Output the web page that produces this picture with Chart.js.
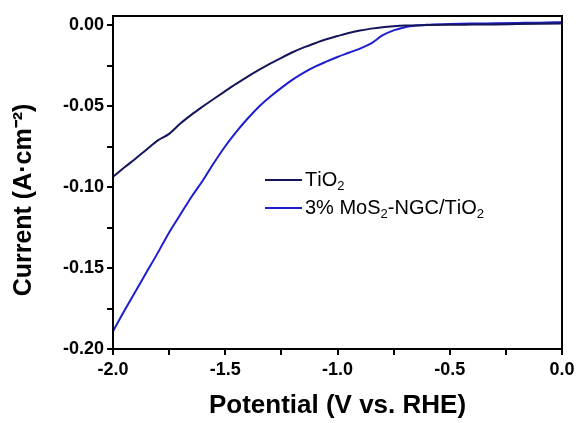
<!DOCTYPE html>
<html>
<head>
<meta charset="utf-8">
<script src="https://cdn.jsdelivr.net/npm/chart.js@4.4.1/dist/chart.umd.min.js"></script>
<style>
  html, body { margin: 0; padding: 0; background: #fff; }
  #wrap { width: 579px; height: 423px; }
</style>
</head>
<body>
<div id="wrap"><canvas id="lsv"></canvas></div>
<script>
/* data */
const tio2Potential = [-2.0, -1.95, -1.9, -1.85, -1.8, -1.75, -1.7, -1.65, -1.6, -1.55, -1.5, -1.45, -1.4, -1.35, -1.3, -1.25, -1.2, -1.15, -1.1, -1.05, -1.0, -0.95, -0.9, -0.85, -0.8, -0.75, -0.7, -0.6, -0.5, -0.4, -0.3, -0.2, -0.1, 0.0];
const tio2Current = [-0.0938, -0.088, -0.0825, -0.0768, -0.0712, -0.0672, -0.0608, -0.0553, -0.0503, -0.0455, -0.0408, -0.0362, -0.0318, -0.0277, -0.0238, -0.0202, -0.0168, -0.0138, -0.0112, -0.0088, -0.0068, -0.0049, -0.0034, -0.0022, -0.0013, -0.0007, -0.0003, 0.0000, 0.0002, 0.0003, 0.0004, 0.0006, 0.0008, 0.0010];

const mosPotential = [-2.0, -1.95, -1.9, -1.85, -1.8, -1.75, -1.7, -1.65, -1.6, -1.55, -1.5, -1.45, -1.4, -1.35, -1.3, -1.25, -1.2, -1.15, -1.1, -1.05, -1.0, -0.95, -0.9, -0.85, -0.8, -0.75, -0.7, -0.65, -0.6, -0.5, -0.4, -0.3, -0.2, -0.1, 0.0];
const mosCurrent = [-0.189, -0.1765, -0.1645, -0.1525, -0.1405, -0.128, -0.117, -0.106, -0.096, -0.085, -0.0748, -0.0658, -0.0577, -0.0504, -0.0443, -0.0388, -0.0337, -0.0294, -0.0257, -0.0226, -0.0197, -0.0171, -0.0145, -0.0113, -0.0064, -0.0033, -0.0013, -0.0003, 0.0002, 0.0006, 0.0009, 0.0011, 0.0013, 0.0015, 0.0018];

const seriesNames = ["TiO₂", "3% MoS₂-NGC/TiO₂"];
const seriesColors = ["#15155c", "#1e1ed0"];

const xTicks = [-2.0, -1.75, -1.5, -1.25, -1.0, -0.75, -0.5, -0.25, 0.0];
const yTicks = [-0.2, -0.175, -0.15, -0.125, -0.1, -0.075, -0.05, -0.025, 0.0];

const xTitle = "Potential (V vs. RHE)";
const yTitle = "Current (A·cm⁻²)";

const FONT = "'Liberation Sans', Arial, sans-serif";

const toPoints = (xs, ys) => xs.map((x, i) => ({ x, y: ys[i] }));

/* box round the plot */
const frame = {
  id: "frame",
  afterDatasetsDraw(chart) {
    const { ctx, chartArea: a } = chart;
    ctx.save();
    ctx.strokeStyle = "#000";
    ctx.lineWidth = 2;
    ctx.strokeRect(a.left, a.top, a.right - a.left, a.bottom - a.top);
    ctx.restore();
  }
};

/* y title sits a bit lower than the axis middle in the original */
const yAxisTitle = {
  id: "yAxisTitle",
  afterDraw(chart, args, opts) {
    const { ctx } = chart;
    ctx.save();
    ctx.translate(opts.x, opts.y);
    ctx.rotate(-Math.PI / 2);
    ctx.font = `bold ${opts.size}px ${FONT}`;
    ctx.fillStyle = "#000";
    ctx.textAlign = "center";
    ctx.textBaseline = "middle";
    ctx.fillText(opts.text, 0, 0);
    ctx.restore();
  }
};

/* legend inside the plot, with subscripts */
function drawRich(ctx, text, x, y, size) {
  let cx = x;
  for (const ch of text) {
    if (ch === "₂") {
      ctx.font = `${Math.round(size * 0.65)}px ${FONT}`;
      ctx.fillText("2", cx, y + size * 0.3);
      cx += ctx.measureText("2").width;
    } else {
      ctx.font = `${size}px ${FONT}`;
      ctx.fillText(ch, cx, y);
      cx += ctx.measureText(ch).width;
    }
  }
}

const innerLegend = {
  id: "innerLegend",
  afterDraw(chart, args, opts) {
    const { ctx } = chart;
    ctx.save();
    ctx.textBaseline = "middle";
    chart.data.datasets.forEach((ds, i) => {
      const y = opts.y + i * opts.gap;
      ctx.strokeStyle = ds.borderColor;
      ctx.lineWidth = 2;
      ctx.beginPath();
      ctx.moveTo(opts.x, y);
      ctx.lineTo(opts.x + opts.len, y);
      ctx.stroke();
      ctx.fillStyle = "#000";
      drawRich(ctx, ds.label, opts.x + opts.len + 3, y, opts.size);
    });
    ctx.restore();
  }
};

new Chart(document.getElementById("lsv"), {
  type: "line",
  data: {
    datasets: [
      {
        label: seriesNames[0],
        data: toPoints(tio2Potential, tio2Current),
        borderColor: seriesColors[0],
        borderWidth: 2,
        pointRadius: 0,
        cubicInterpolationMode: "monotone"
      },
      {
        label: seriesNames[1],
        data: toPoints(mosPotential, mosCurrent),
        borderColor: seriesColors[1],
        borderWidth: 2,
        pointRadius: 0,
        cubicInterpolationMode: "monotone"
      }
    ]
  },
  options: {
    responsive: true,
    maintainAspectRatio: false,
    animation: false,
    events: [],
    layout: { padding: { top: 16, right: 17, left: 9, bottom: 0 } },
    plugins: {
      legend: { display: false },
      tooltip: { enabled: false },
      innerLegend: { x: 265, y: 180, gap: 28, len: 37, size: 20 },
      yAxisTitle: { x: 24, y: 200, size: 25, text: yTitle }
    },
    scales: {
      x: {
        type: "linear",
        min: -2.0,
        max: 0.0,
        afterBuildTicks: s => { s.ticks = xTicks.map(v => ({ value: v })); },
        afterFit: s => { s.height = 74; },
        border: { color: "#000", width: 2 },
        grid: { drawOnChartArea: false, color: "#000", lineWidth: 2, tickLength: 6 },
        ticks: {
          color: "#000",
          padding: 4,
          maxRotation: 0,
          autoSkip: false,
          font: { family: FONT, size: 18, weight: "bold" },
          callback: v => (Math.abs(v * 2 - Math.round(v * 2)) < 1e-6 ? v.toFixed(1) : "")
        },
        title: {
          display: true,
          text: xTitle,
          color: "#000",
          padding: { top: 4, bottom: 2 },
          font: { family: FONT, size: 26, weight: "bold" }
        }
      },
      y: {
        type: "linear",
        min: -0.2,
        max: 0.0056,
        afterBuildTicks: s => { s.ticks = yTicks.map(v => ({ value: v })); },
        afterFit: s => { s.width = 104; },
        border: { color: "#000", width: 2 },
        grid: { drawOnChartArea: false, color: "#000", lineWidth: 2, tickLength: 6 },
        ticks: {
          color: "#000",
          padding: 3,
          autoSkip: false,
          font: { family: FONT, size: 18, weight: "bold" },
          callback: v => (Math.abs(v * 20 - Math.round(v * 20)) < 1e-6 ? v.toFixed(2) : "")
        }
      }
    }
  },
  plugins: [frame, innerLegend, yAxisTitle]
});
</script>
</body>
</html>
